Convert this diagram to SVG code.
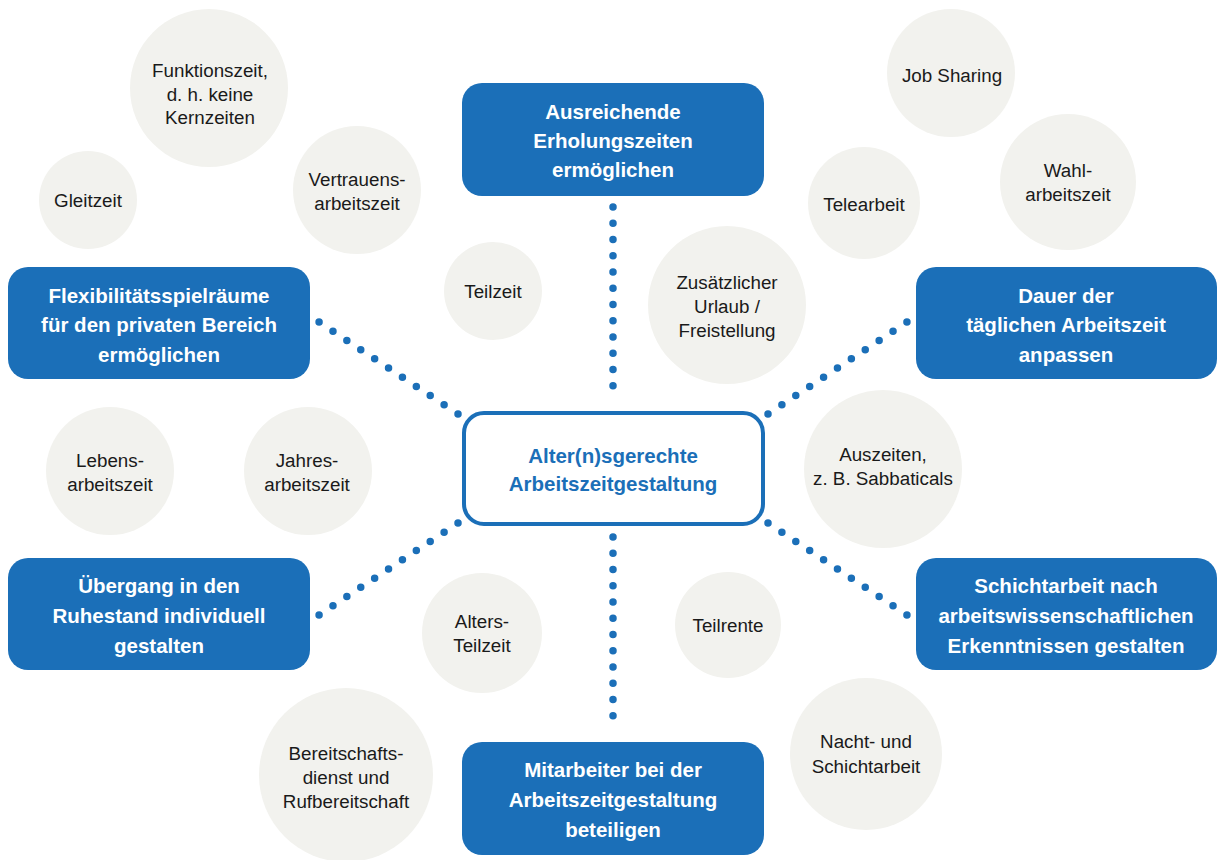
<svg xmlns="http://www.w3.org/2000/svg" width="1217" height="860" viewBox="0 0 1217 860">
<style>
.box{fill:#1b6fb8;}
.cbox{fill:#ffffff;stroke:#1b6fb8;stroke-width:4;}
.bub{fill:#f2f2ee;}
.bt{font-family:"Liberation Sans",Arial,sans-serif;font-weight:bold;font-size:20.5px;fill:#ffffff;text-anchor:middle;}
.ctt{font-family:"Liberation Sans",Arial,sans-serif;font-weight:bold;font-size:20.5px;fill:#1b6fb8;text-anchor:middle;}
.t{font-family:"Liberation Sans",Arial,sans-serif;font-size:18.8px;fill:#1a1a1a;text-anchor:middle;}
.dots{fill:none;stroke:#1b6fb8;stroke-width:7.5;stroke-linecap:round;}
.v{stroke-dasharray:0 16.25;}
.d{stroke-dasharray:0 16.66;}
</style>
<rect width="1217" height="860" fill="#ffffff"/>

<g id="connectors">
<line class="dots v" x1="613" y1="207" x2="613" y2="402"/>
<line class="dots v" x1="613" y1="537" x2="613" y2="732"/>
<line class="dots d" x1="768" y1="414" x2="907" y2="322"/>
<line class="dots d" x1="768" y1="523" x2="907" y2="615"/>
<line class="dots d" x1="458" y1="414" x2="319" y2="322"/>
<line class="dots d" x1="458" y1="523" x2="319" y2="615"/>
</g>

<g id="bubble-funktionszeit"><circle class="bub" cx="209" cy="88" r="79"/>
<text class="t" x="210" y="77">Funktionszeit,</text><text class="t" x="210" y="101">d. h. keine</text><text class="t" x="210" y="124">Kernzeiten</text></g>
<g id="bubble-gleitzeit"><circle class="bub" cx="88" cy="200" r="49"/>
<text class="t" x="88" y="207">Gleitzeit</text></g>
<g id="bubble-vertrauensarbeitszeit"><circle class="bub" cx="357" cy="190" r="64"/>
<text class="t" x="357" y="186">Vertrauens-</text><text class="t" x="357" y="210">arbeitszeit</text></g>
<g id="bubble-teilzeit"><circle class="bub" cx="493" cy="291" r="49"/>
<text class="t" x="493" y="298">Teilzeit</text></g>
<g id="bubble-urlaub"><circle class="bub" cx="727" cy="305" r="79"/>
<text class="t" x="727" y="289">Zusätzlicher</text><text class="t" x="727" y="313">Urlaub /</text><text class="t" x="727" y="337">Freistellung</text></g>
<g id="bubble-jobsharing"><circle class="bub" cx="951" cy="73" r="64"/>
<text class="t" x="952" y="82">Job Sharing</text></g>
<g id="bubble-telearbeit"><circle class="bub" cx="864" cy="203" r="56"/>
<text class="t" x="864" y="211">Telearbeit</text></g>
<g id="bubble-wahlarbeitszeit"><circle class="bub" cx="1068" cy="182" r="68"/>
<text class="t" x="1068" y="177">Wahl-</text><text class="t" x="1068" y="201">arbeitszeit</text></g>
<g id="bubble-lebensarbeitszeit"><circle class="bub" cx="110" cy="471" r="64"/>
<text class="t" x="110" y="467">Lebens-</text><text class="t" x="110" y="491">arbeitszeit</text></g>
<g id="bubble-jahresarbeitszeit"><circle class="bub" cx="308" cy="471" r="64"/>
<text class="t" x="307" y="467">Jahres-</text><text class="t" x="307" y="491">arbeitszeit</text></g>
<g id="bubble-auszeiten"><circle class="bub" cx="883" cy="469" r="79"/>
<text class="t" x="883" y="461">Auszeiten,</text><text class="t" x="883" y="485">z. B. Sabbaticals</text></g>
<g id="bubble-altersteilzeit"><circle class="bub" cx="482" cy="633" r="60"/>
<text class="t" x="482" y="628">Alters-</text><text class="t" x="482" y="652">Teilzeit</text></g>
<g id="bubble-teilrente"><circle class="bub" cx="728" cy="625" r="53"/>
<text class="t" x="728" y="632">Teilrente</text></g>
<g id="bubble-bereitschaft"><circle class="bub" cx="346" cy="775" r="87"/>
<text class="t" x="346" y="760">Bereitschafts-</text><text class="t" x="346" y="784">dienst und</text><text class="t" x="346" y="808">Rufbereitschaft</text></g>
<g id="bubble-nachtarbeit"><circle class="bub" cx="866" cy="754" r="76"/>
<text class="t" x="866" y="748">Nacht- und</text><text class="t" x="866" y="773">Schichtarbeit</text></g>

<g id="node-center"><rect class="cbox" x="464" y="413" width="299" height="111" rx="20"/>
<text class="ctt" x="613" y="463">Alter(n)sgerechte</text><text class="ctt" x="613" y="491">Arbeitszeitgestaltung</text></g>
<g id="node-erholung"><rect class="box" x="462" y="83" width="302" height="113" rx="20"/>
<text class="bt" x="613" y="119">Ausreichende</text><text class="bt" x="613" y="148">Erholungszeiten</text><text class="bt" x="613" y="177">ermöglichen</text></g>
<g id="node-flexibilitaet"><rect class="box" x="8" y="267" width="302" height="112" rx="20"/>
<text class="bt" x="159" y="303">Flexibilitätsspielräume</text><text class="bt" x="159" y="332">für den privaten Bereich</text><text class="bt" x="159" y="362">ermöglichen</text></g>
<g id="node-dauer"><rect class="box" x="916" y="267" width="301" height="112" rx="20"/>
<text class="bt" x="1066" y="303">Dauer der</text><text class="bt" x="1066" y="332">täglichen Arbeitszeit</text><text class="bt" x="1066" y="362">anpassen</text></g>
<g id="node-uebergang"><rect class="box" x="8" y="558" width="302" height="112" rx="20"/>
<text class="bt" x="159" y="593">Übergang in den</text><text class="bt" x="159" y="623">Ruhestand individuell</text><text class="bt" x="159" y="653">gestalten</text></g>
<g id="node-schichtarbeit"><rect class="box" x="916" y="558" width="301" height="112" rx="20"/>
<text class="bt" x="1066" y="593">Schichtarbeit nach</text><text class="bt" x="1066" y="623">arbeitswissenschaftlichen</text><text class="bt" x="1066" y="653">Erkenntnissen gestalten</text></g>
<g id="node-mitarbeiter"><rect class="box" x="462" y="742" width="302" height="113" rx="20"/>
<text class="bt" x="613" y="777">Mitarbeiter bei der</text><text class="bt" x="613" y="807">Arbeitszeitgestaltung</text><text class="bt" x="613" y="837">beteiligen</text></g>
</svg>
